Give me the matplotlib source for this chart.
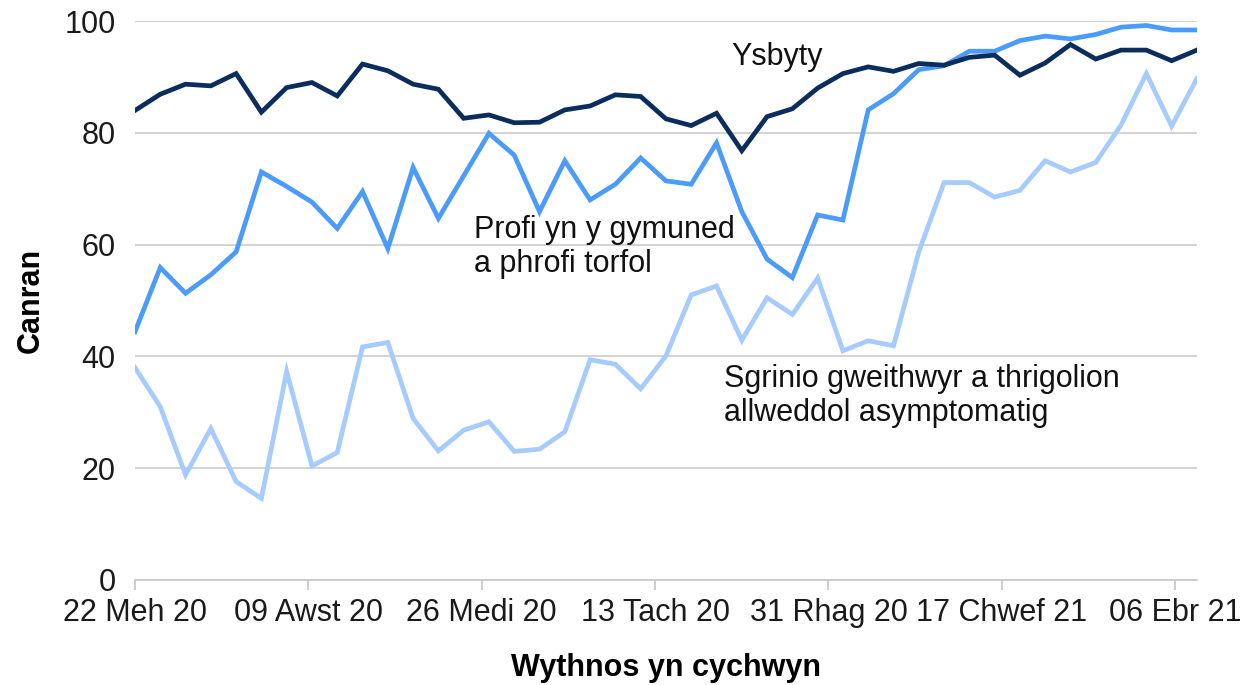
import matplotlib
matplotlib.use("Agg")
import matplotlib.pyplot as plt
import numpy as np
import datetime as dt

plt.rcParams['font.family'] = ['Liberation Sans', 'DejaVu Sans']

start = dt.date(2020, 6, 22)
weeks = [start + dt.timedelta(days=7 * i) for i in range(43)]

ysbyty = [84.0, 86.9, 88.7, 88.4, 90.6, 83.7, 88.1, 89.0, 86.6, 92.3,
          91.1, 88.7, 87.8, 82.6, 83.2, 81.8, 81.9, 84.1, 84.8, 86.8,
          86.5, 82.5, 81.3, 83.5, 76.8, 82.9, 84.3, 88.0, 90.6, 91.8,
          91.0, 92.4, 92.1, 93.5, 93.9, 90.3, 92.5, 95.8, 93.2, 94.8,
          94.8, 92.9, 94.8]
cymuned = [44.4, 55.9, 51.3, 54.6, 58.7, 73.0, 70.4, 67.6, 62.9, 69.5,
           59.3, 73.8, 64.7, 72.3, 79.9, 76.0, 65.9, 75.0, 68.0, 70.8,
           75.5, 71.4, 70.8, 78.2, 65.9, 57.4, 54.1, 65.3, 64.4, 84.1,
           87.0, 91.3, 92.0, 94.6, 94.6, 96.5, 97.3, 96.8, 97.6, 98.9,
           99.2, 98.4, 98.4]
sgrinio = [38.0, 31.0, 18.8, 27.1, 17.6, 14.6, 37.3, 20.4, 22.8, 41.7,
           42.5, 28.9, 23.1, 26.8, 28.3, 23.0, 23.4, 26.5, 39.4, 38.6,
           34.2, 40.1, 51.0, 52.6, 42.9, 50.5, 47.5, 54.0, 41.0, 42.8,
           41.9, 58.7, 71.1, 71.1, 68.5, 69.7, 75.0, 73.0, 74.7, 81.4,
           90.6, 81.2, 89.7]

tick_dates = [start + dt.timedelta(days=48 * i) for i in range(7)]
tick_labels = ['22 Meh 20', '09 Awst 20', '26 Medi 20', '13 Tach 20',
               '31 Rhag 20', '17 Chwef 21', '06 Ebr 21']

fig = plt.figure(figsize=(12.52, 6.85), dpi=100)
ax = fig.add_axes([0.1078, 0.1533, 0.956 - 0.1078, 0.9693 - 0.1533])

ax.plot(weeks, sgrinio, color='#a6cbff', lw=3.4, solid_joinstyle='miter')
ax.plot(weeks, cymuned, color='#4b9bfb', lw=3.4, solid_joinstyle='miter')
ax.plot(weeks, ysbyty, color='#0b2d5e', lw=3.4, solid_joinstyle='miter')

ax.set_xlim(weeks[0], weeks[-1])
ax.set_ylim(0, 100)
ax.set_yticks(range(0, 101, 20))
ax.set_xticks(tick_dates)
ax.set_xticklabels(tick_labels)
ax.grid(axis='y', color='#d0d0d0', lw=1.3)
ax.set_axisbelow(True)

for s in ['top', 'right', 'left']:
    ax.spines[s].set_visible(False)
ax.spines['bottom'].set_color('#c8c8c8')
ax.spines['bottom'].set_linewidth(1.3)
ax.tick_params(axis='y', length=0, pad=14, labelsize=22, labelcolor='#1a1a1a')
ax.tick_params(axis='x', length=7, width=1.3, color='#c8c8c8', pad=6,
               labelsize=22, labelcolor='#1a1a1a')

ax.set_ylabel('Canran', fontsize=22, fontweight='bold', labelpad=13)
ax.set_xlabel('Wythnos yn cychwyn', fontsize=22, fontweight='bold', labelpad=18)

def day(n):
    return start + dt.timedelta(days=n)

ax.text(day(165), 93.6, 'Ysbyty', fontsize=22, va='center', color='#111111')
ax.text(day(94.6), 59.6, 'Profi yn y gymuned\na phrofi torfol', fontsize=22,
        va='center', color='#111111')
ax.text(day(163.3), 32.9, 'Sgrinio gweithwyr a thrigolion\nallweddol asymptomatig',
        fontsize=22, va='center', color='#111111')

fig.savefig('out.png', dpi=100)
